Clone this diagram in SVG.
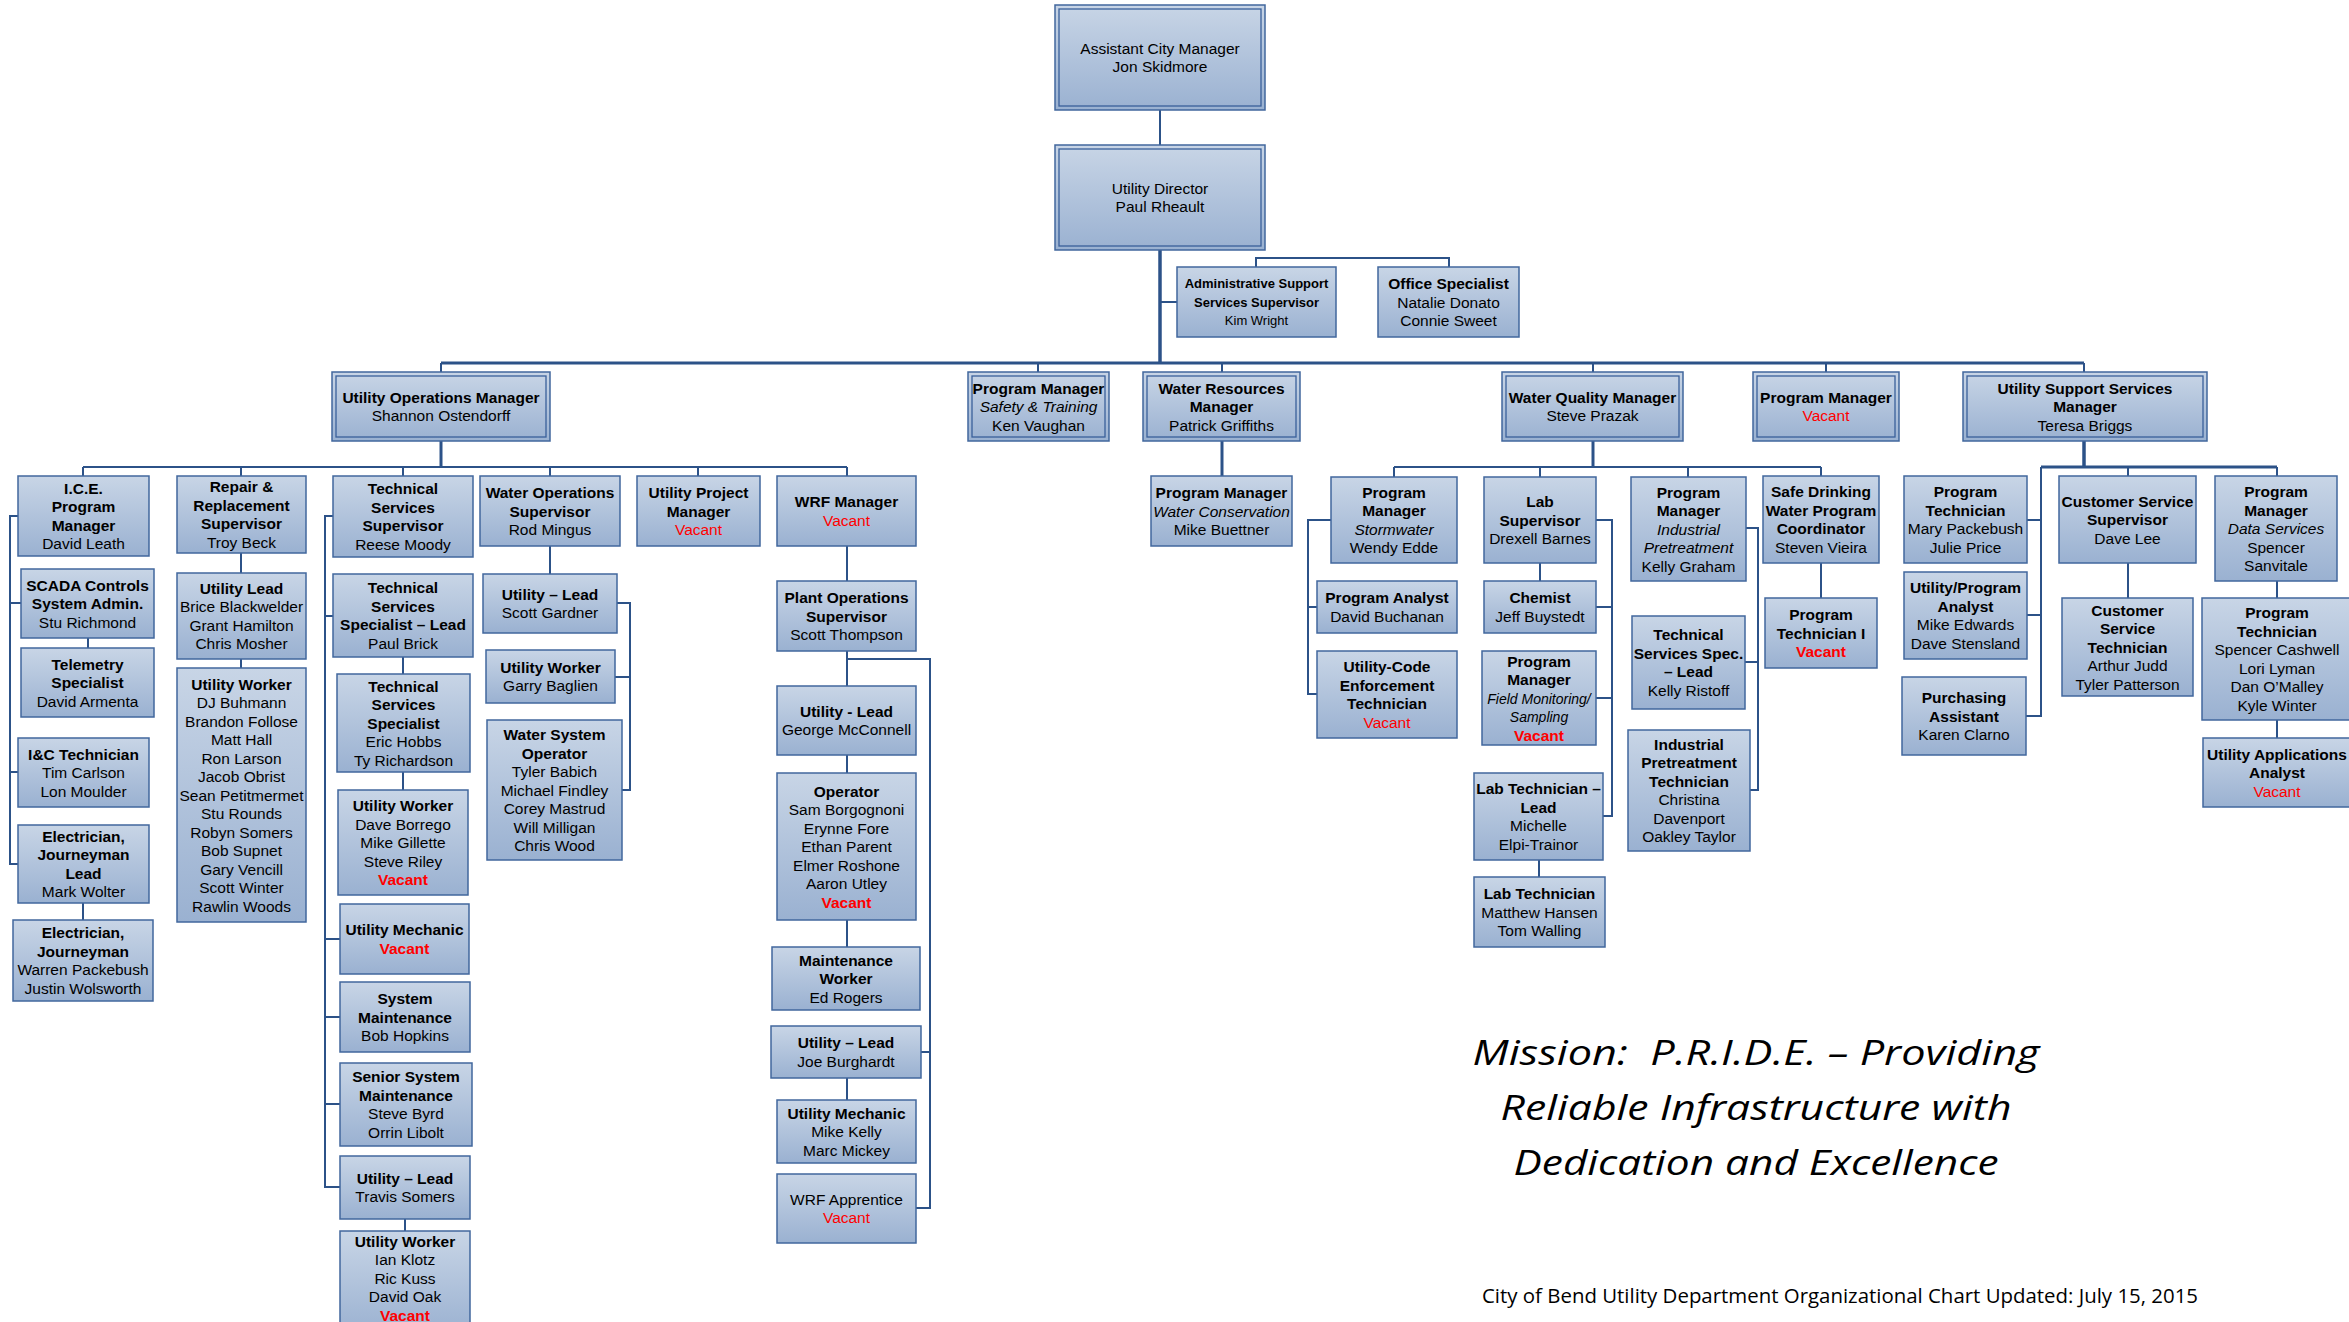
<svg xmlns="http://www.w3.org/2000/svg" width="2349" height="1322" viewBox="0 0 2349 1322">
<defs>
<linearGradient id="g" x1="0" y1="0" x2="0" y2="1">
<stop offset="0" stop-color="#c8d5e6"/>
<stop offset="1" stop-color="#9ab1d1"/>
</linearGradient>
<style>
.box{fill:url(#g);stroke:#41679d;stroke-width:1.5}
.in{fill:none;stroke:#3a609a;stroke-width:1.3}
.c{fill:none;stroke:#2c5288;stroke-width:2}
.ck{fill:none;stroke:#2c5288;stroke-width:3.5}
text{font-family:"Liberation Sans",Arial,sans-serif;font-size:15.5px;text-anchor:middle;fill:#000}
.b{font-weight:bold}
.i{font-style:italic}
.v{fill:#ff0000}
.vb{fill:#ff0000;font-weight:bold}
.s{font-size:13px}
.fi{font-style:italic;font-size:14px}
.m{font-family:"Open Sans","Liberation Sans",sans-serif;font-style:italic;font-size:35px}
.f{font-family:"Open Sans","Liberation Sans",sans-serif;font-size:20px;text-anchor:start}
</style>
</defs>
<rect width="2349" height="1322" fill="#ffffff"/>

<g id="connectors">
<path class="c" d="M1160 110V145"/>
<path class="ck" d="M1160 250V363"/>
<path class="c" d="M1160 302H1177"/>
<path class="c" d="M1256 267V258H1449V267"/>
<path class="c" d="M441 363H2084" style="stroke-width:3"/>
<path class="c" d="M441 363V372M1038 363V372M1222 363V372M1593 363V372M1826 363V372M2084 363V372"/>
<path class="ck" d="M441 441V467" style="stroke-width:3"/>
<path class="c" d="M83 467H847"/>
<path class="c" d="M83 467V476M241 467V476M403 467V476M550 467V476M698 467V476M847 467V476"/>
<path class="c" d="M18 516H10V864H18M10 603H21M10 772H18"/>
<path class="c" d="M88 638V648M83 903V920"/>
<path class="c" d="M241 553V573M241 659V668"/>
<path class="c" d="M333 516H325V1187H340M325 616H333M325 939H340M325 1017H340M325 1104H340"/>
<path class="c" d="M403 657V674M403 772V790M405 1219V1231"/>
<path class="c" d="M550 546V574M617 603H630V790H622M615 677H630"/>
<path class="c" d="M847 546V581M847 651V686M847 755V773M847 920V947M847 1078V1100"/>
<path class="c" d="M847 659H930V1208H916M921 1052H930"/>
<path class="ck" d="M1222 441V476" style="stroke-width:3"/>
<path class="ck" d="M1593 441V467" style="stroke-width:3"/>
<path class="c" d="M1394 467H1821"/>
<path class="c" d="M1394 467V477M1540 467V477M1688 467V477M1821 467V476"/>
<path class="c" d="M1331 520H1308V694H1317M1308 607H1317"/>
<path class="c" d="M1540 563V581M1596 520H1612V816H1603M1596 607H1612M1596 698H1612M1539 860V877"/>
<path class="c" d="M1746 528H1758V790H1750M1745 662H1758"/>
<path class="c" d="M1821 563V598"/>
<path class="ck" d="M2084 441V467"/>
<path class="c" d="M2041 467H2277" style="stroke-width:3"/>
<path class="c" d="M2128 467V476M2277 467V476"/>
<path class="c" d="M2041 467V716H2026M2027 520H2041M2027 615H2041"/>
<path class="c" d="M2128 563V598M2277 581V598M2277 720V738"/>
</g>

<g id="acm"><rect class="box" x="1055" y="5" width="210" height="105"/><rect class="in" x="1059" y="9" width="202" height="97"/>
<text><tspan x="1160" y="53.75">Assistant City Manager</tspan><tspan x="1160" y="72.25">Jon Skidmore</tspan></text></g>
<g id="ud"><rect class="box" x="1055" y="145" width="210" height="105"/><rect class="in" x="1059" y="149" width="202" height="97"/>
<text><tspan x="1160" y="193.75">Utility Director</tspan><tspan x="1160" y="212.25">Paul Rheault</tspan></text></g>
<g id="admin"><rect class="box" x="1177" y="267" width="159" height="70"/>
<text class="s"><tspan class="b" x="1256.5" y="288">Administrative Support</tspan><tspan class="b" x="1256.5" y="306.5">Services Supervisor</tspan><tspan x="1256.5" y="325">Kim Wright</tspan></text></g>
<g id="office"><rect class="box" x="1378" y="267" width="141" height="70"/>
<text><tspan class="b" x="1448.5" y="289">Office Specialist</tspan><tspan x="1448.5" y="307.5">Natalie Donato</tspan><tspan x="1448.5" y="326">Connie Sweet</tspan></text></g>

<g id="uom"><rect class="box" x="332" y="372" width="218" height="69"/><rect class="in" x="336" y="376" width="210" height="61"/>
<text><tspan class="b" x="441" y="402.75">Utility Operations Manager</tspan><tspan x="441" y="421.25">Shannon Ostendorff</tspan></text></g>
<g id="pmsafety"><rect class="box" x="968" y="372" width="141" height="69"/><rect class="in" x="972" y="376" width="133" height="61"/>
<text><tspan class="b" x="1038.5" y="393.5">Program Manager</tspan><tspan class="i" x="1038.5" y="412">Safety &amp; Training</tspan><tspan x="1038.5" y="430.5">Ken Vaughan</tspan></text></g>
<g id="wrm"><rect class="box" x="1143" y="372" width="157" height="69"/><rect class="in" x="1147" y="376" width="149" height="61"/>
<text><tspan class="b" x="1221.5" y="393.5">Water Resources</tspan><tspan class="b" x="1221.5" y="412">Manager</tspan><tspan x="1221.5" y="430.5">Patrick Griffiths</tspan></text></g>
<g id="wqm"><rect class="box" x="1502" y="372" width="181" height="69"/><rect class="in" x="1506" y="376" width="173" height="61"/>
<text><tspan class="b" x="1592.5" y="402.75">Water Quality Manager</tspan><tspan x="1592.5" y="421.25">Steve Prazak</tspan></text></g>
<g id="pmvacant"><rect class="box" x="1753" y="372" width="146" height="69"/><rect class="in" x="1757" y="376" width="138" height="61"/>
<text><tspan class="b" x="1826" y="402.75">Program Manager</tspan><tspan class="v" x="1826" y="421.25">Vacant</tspan></text></g>
<g id="ussm"><rect class="box" x="1963" y="372" width="244" height="69"/><rect class="in" x="1967" y="376" width="236" height="61"/>
<text><tspan class="b" x="2085" y="393.5">Utility Support Services</tspan><tspan class="b" x="2085" y="412">Manager</tspan><tspan x="2085" y="430.5">Teresa Briggs</tspan></text></g>

<g id="ice"><rect class="box" x="18" y="476" width="131" height="80"/>
<text><tspan class="b" x="83.5" y="493.75">I.C.E.</tspan><tspan class="b" x="83.5" y="512.25">Program</tspan><tspan class="b" x="83.5" y="530.75">Manager</tspan><tspan x="83.5" y="549.25">David Leath</tspan></text></g>
<g id="scada"><rect class="box" x="21" y="569" width="133" height="69"/>
<text><tspan class="b" x="87.5" y="590.5">SCADA Controls</tspan><tspan class="b" x="87.5" y="609">System Admin.</tspan><tspan x="87.5" y="627.5">Stu Richmond</tspan></text></g>
<g id="telemetry"><rect class="box" x="21" y="648" width="133" height="69"/>
<text><tspan class="b" x="87.5" y="669.5">Telemetry</tspan><tspan class="b" x="87.5" y="688">Specialist</tspan><tspan x="87.5" y="706.5">David Armenta</tspan></text></g>
<g id="ic"><rect class="box" x="18" y="738" width="131" height="69"/>
<text><tspan class="b" x="83.5" y="759.5">I&amp;C Technician</tspan><tspan x="83.5" y="778">Tim Carlson</tspan><tspan x="83.5" y="796.5">Lon Moulder</tspan></text></g>
<g id="eleclead"><rect class="box" x="18" y="825" width="131" height="78"/>
<text><tspan class="b" x="83.5" y="841.75">Electrician,</tspan><tspan class="b" x="83.5" y="860.25">Journeyman</tspan><tspan class="b" x="83.5" y="878.75">Lead</tspan><tspan x="83.5" y="897.25">Mark Wolter</tspan></text></g>
<g id="elecj"><rect class="box" x="13" y="920" width="140" height="81"/>
<text><tspan class="b" x="83" y="938.25">Electrician,</tspan><tspan class="b" x="83" y="956.75">Journeyman</tspan><tspan x="83" y="975.25">Warren Packebush</tspan><tspan x="83" y="993.75">Justin Wolsworth</tspan></text></g>

<g id="rr"><rect class="box" x="177" y="476" width="129" height="77"/>
<text><tspan class="b" x="241.5" y="492.25">Repair &amp;</tspan><tspan class="b" x="241.5" y="510.75">Replacement</tspan><tspan class="b" x="241.5" y="529.25">Supervisor</tspan><tspan x="241.5" y="547.75">Troy Beck</tspan></text></g>
<g id="rrlead"><rect class="box" x="177" y="573" width="129" height="86"/>
<text><tspan class="b" x="241.5" y="593.75">Utility Lead</tspan><tspan x="241.5" y="612.25">Brice Blackwelder</tspan><tspan x="241.5" y="630.75">Grant Hamilton</tspan><tspan x="241.5" y="649.25">Chris Mosher</tspan></text></g>
<g id="rrworker"><rect class="box" x="177" y="668" width="129" height="254"/>
<text><tspan class="b" x="241.5" y="689.5">Utility Worker</tspan><tspan x="241.5" y="708">DJ Buhmann</tspan><tspan x="241.5" y="726.5">Brandon Follose</tspan><tspan x="241.5" y="745">Matt Hall</tspan><tspan x="241.5" y="763.5">Ron Larson</tspan><tspan x="241.5" y="782">Jacob Obrist</tspan><tspan x="241.5" y="800.5">Sean Petitmermet</tspan><tspan x="241.5" y="819">Stu Rounds</tspan><tspan x="241.5" y="837.5">Robyn Somers</tspan><tspan x="241.5" y="856">Bob Supnet</tspan><tspan x="241.5" y="874.5">Gary Vencill</tspan><tspan x="241.5" y="893">Scott Winter</tspan><tspan x="241.5" y="911.5">Rawlin Woods</tspan></text></g>

<g id="tss"><rect class="box" x="333" y="476" width="140" height="81"/>
<text><tspan class="b" x="403" y="494.25">Technical</tspan><tspan class="b" x="403" y="512.75">Services</tspan><tspan class="b" x="403" y="531.25">Supervisor</tspan><tspan x="403" y="549.75">Reese Moody</tspan></text></g>
<g id="tsslead"><rect class="box" x="333" y="574" width="140" height="83"/>
<text><tspan class="b" x="403" y="593.25">Technical</tspan><tspan class="b" x="403" y="611.75">Services</tspan><tspan class="b" x="403" y="630.25">Specialist – Lead</tspan><tspan x="403" y="648.75">Paul Brick</tspan></text></g>
<g id="tsspec"><rect class="box" x="337" y="674" width="133" height="98"/>
<text><tspan class="b" x="403.5" y="691.5">Technical</tspan><tspan class="b" x="403.5" y="710">Services</tspan><tspan class="b" x="403.5" y="728.5">Specialist</tspan><tspan x="403.5" y="747">Eric Hobbs</tspan><tspan x="403.5" y="765.5">Ty Richardson</tspan></text></g>
<g id="tsworker"><rect class="box" x="338" y="790" width="130" height="105"/>
<text><tspan class="b" x="403" y="811">Utility Worker</tspan><tspan x="403" y="829.5">Dave Borrego</tspan><tspan x="403" y="848">Mike Gillette</tspan><tspan x="403" y="866.5">Steve Riley</tspan><tspan class="vb" x="403" y="885">Vacant</tspan></text></g>
<g id="tsmech"><rect class="box" x="340" y="904" width="129" height="70"/>
<text><tspan class="b" x="404.5" y="935.25">Utility Mechanic</tspan><tspan class="vb" x="404.5" y="953.75">Vacant</tspan></text></g>
<g id="sysmaint"><rect class="box" x="340" y="982" width="130" height="70"/>
<text><tspan class="b" x="405" y="1004">System</tspan><tspan class="b" x="405" y="1022.5">Maintenance</tspan><tspan x="405" y="1041">Bob Hopkins</tspan></text></g>
<g id="srsys"><rect class="box" x="340" y="1063" width="132" height="83"/>
<text><tspan class="b" x="406" y="1082.25">Senior System</tspan><tspan class="b" x="406" y="1100.75">Maintenance</tspan><tspan x="406" y="1119.25">Steve Byrd</tspan><tspan x="406" y="1137.75">Orrin Libolt</tspan></text></g>
<g id="utlead"><rect class="box" x="340" y="1156" width="130" height="63"/>
<text><tspan class="b" x="405" y="1183.75">Utility – Lead</tspan><tspan x="405" y="1202.25">Travis Somers</tspan></text></g>
<g id="utworker"><rect class="box" x="340" y="1231" width="130" height="104"/>
<text><tspan class="b" x="405" y="1246.5">Utility Worker</tspan><tspan x="405" y="1265">Ian Klotz</tspan><tspan x="405" y="1283.5">Ric Kuss</tspan><tspan x="405" y="1302">David Oak</tspan><tspan class="vb" x="405" y="1320.5">Vacant</tspan></text></g>

<g id="wos"><rect class="box" x="480" y="476" width="140" height="70"/>
<text><tspan class="b" x="550" y="498">Water Operations</tspan><tspan class="b" x="550" y="516.5">Supervisor</tspan><tspan x="550" y="535">Rod Mingus</tspan></text></g>
<g id="wolead"><rect class="box" x="483" y="574" width="134" height="59"/>
<text><tspan class="b" x="550" y="599.75">Utility – Lead</tspan><tspan x="550" y="618.25">Scott Gardner</tspan></text></g>
<g id="woworker"><rect class="box" x="486" y="650" width="129" height="53"/>
<text><tspan class="b" x="550.5" y="672.75">Utility Worker</tspan><tspan x="550.5" y="691.25">Garry Baglien</tspan></text></g>
<g id="wso"><rect class="box" x="487" y="720" width="135" height="140"/>
<text><tspan class="b" x="554.5" y="740">Water System</tspan><tspan class="b" x="554.5" y="758.5">Operator</tspan><tspan x="554.5" y="777">Tyler Babich</tspan><tspan x="554.5" y="795.5">Michael Findley</tspan><tspan x="554.5" y="814">Corey Mastrud</tspan><tspan x="554.5" y="832.5">Will Milligan</tspan><tspan x="554.5" y="851">Chris Wood</tspan></text></g>
<g id="upm"><rect class="box" x="637" y="476" width="123" height="70"/>
<text><tspan class="b" x="698.5" y="498">Utility Project</tspan><tspan class="b" x="698.5" y="516.5">Manager</tspan><tspan class="v" x="698.5" y="535">Vacant</tspan></text></g>

<g id="wrf"><rect class="box" x="777" y="476" width="139" height="70"/>
<text><tspan class="b" x="846.5" y="507.25">WRF Manager</tspan><tspan class="v" x="846.5" y="525.75">Vacant</tspan></text></g>
<g id="pos"><rect class="box" x="777" y="581" width="139" height="70"/>
<text><tspan class="b" x="846.5" y="603">Plant Operations</tspan><tspan class="b" x="846.5" y="621.5">Supervisor</tspan><tspan x="846.5" y="640">Scott Thompson</tspan></text></g>
<g id="wrflead"><rect class="box" x="777" y="686" width="139" height="69"/>
<text><tspan class="b" x="846.5" y="716.75">Utility - Lead</tspan><tspan x="846.5" y="735.25">George McConnell</tspan></text></g>
<g id="operator"><rect class="box" x="777" y="773" width="139" height="147"/>
<text><tspan class="b" x="846.5" y="796.5">Operator</tspan><tspan x="846.5" y="815">Sam Borgognoni</tspan><tspan x="846.5" y="833.5">Erynne Fore</tspan><tspan x="846.5" y="852">Ethan Parent</tspan><tspan x="846.5" y="870.5">Elmer Roshone</tspan><tspan x="846.5" y="889">Aaron Utley</tspan><tspan class="vb" x="846.5" y="907.5">Vacant</tspan></text></g>
<g id="maintw"><rect class="box" x="772" y="947" width="148" height="63"/>
<text><tspan class="b" x="846" y="965.5">Maintenance</tspan><tspan class="b" x="846" y="984">Worker</tspan><tspan x="846" y="1002.5">Ed Rogers</tspan></text></g>
<g id="wrflead2"><rect class="box" x="771" y="1026" width="150" height="52"/>
<text><tspan class="b" x="846" y="1048.25">Utility – Lead</tspan><tspan x="846" y="1066.75">Joe Burghardt</tspan></text></g>
<g id="wrfmech"><rect class="box" x="777" y="1100" width="139" height="63"/>
<text><tspan class="b" x="846.5" y="1118.5">Utility Mechanic</tspan><tspan x="846.5" y="1137">Mike Kelly</tspan><tspan x="846.5" y="1155.5">Marc Mickey</tspan></text></g>
<g id="wrfapp"><rect class="box" x="777" y="1174" width="139" height="69"/>
<text><tspan x="846.5" y="1204.75">WRF Apprentice</tspan><tspan class="v" x="846.5" y="1223.25">Vacant</tspan></text></g>

<g id="pmwc"><rect class="box" x="1151" y="476" width="141" height="70"/>
<text><tspan class="b" x="1221.5" y="498">Program Manager</tspan><tspan class="i" x="1221.5" y="516.5">Water Conservation</tspan><tspan x="1221.5" y="535">Mike Buettner</tspan></text></g>

<g id="pmsw"><rect class="box" x="1331" y="477" width="126" height="86"/>
<text><tspan class="b" x="1394" y="497.75">Program</tspan><tspan class="b" x="1394" y="516.25">Manager</tspan><tspan class="i" x="1394" y="534.75">Stormwater</tspan><tspan x="1394" y="553.25">Wendy Edde</tspan></text></g>
<g id="pa"><rect class="box" x="1317" y="581" width="140" height="52"/>
<text><tspan class="b" x="1387" y="603.25">Program Analyst</tspan><tspan x="1387" y="621.75">David Buchanan</tspan></text></g>
<g id="uce"><rect class="box" x="1317" y="651" width="140" height="87"/>
<text><tspan class="b" x="1387" y="672.25">Utility-Code</tspan><tspan class="b" x="1387" y="690.75">Enforcement</tspan><tspan class="b" x="1387" y="709.25">Technician</tspan><tspan class="v" x="1387" y="727.75">Vacant</tspan></text></g>
<g id="labsup"><rect class="box" x="1484" y="477" width="112" height="86"/>
<text><tspan class="b" x="1540" y="507">Lab</tspan><tspan class="b" x="1540" y="525.5">Supervisor</tspan><tspan x="1540" y="544">Drexell Barnes</tspan></text></g>
<g id="chemist"><rect class="box" x="1484" y="581" width="112" height="52"/>
<text><tspan class="b" x="1540" y="603.25">Chemist</tspan><tspan x="1540" y="621.75">Jeff Buystedt</tspan></text></g>
<g id="pmfm"><rect class="box" x="1482" y="651" width="114" height="94"/>
<text><tspan class="b" x="1539" y="666.5">Program</tspan><tspan class="b" x="1539" y="685">Manager</tspan><tspan class="fi" x="1539" y="703.5">Field Monitoring/</tspan><tspan class="fi" x="1539" y="722">Sampling</tspan><tspan class="vb" x="1539" y="740.5">Vacant</tspan></text></g>
<g id="labtechlead"><rect class="box" x="1474" y="773" width="129" height="87"/>
<text><tspan class="b" x="1538.5" y="794.25">Lab Technician –</tspan><tspan class="b" x="1538.5" y="812.75">Lead</tspan><tspan x="1538.5" y="831.25">Michelle</tspan><tspan x="1538.5" y="849.75">Elpi-Trainor</tspan></text></g>
<g id="labtech"><rect class="box" x="1474" y="877" width="131" height="70"/>
<text><tspan class="b" x="1539.5" y="899">Lab Technician</tspan><tspan x="1539.5" y="917.5">Matthew Hansen</tspan><tspan x="1539.5" y="936">Tom Walling</tspan></text></g>
<g id="pmip"><rect class="box" x="1631" y="477" width="115" height="104"/>
<text><tspan class="b" x="1688.5" y="497.5">Program</tspan><tspan class="b" x="1688.5" y="516">Manager</tspan><tspan class="i" x="1688.5" y="534.5">Industrial</tspan><tspan class="i" x="1688.5" y="553">Pretreatment</tspan><tspan x="1688.5" y="571.5">Kelly Graham</tspan></text></g>
<g id="tsslead2"><rect class="box" x="1632" y="616" width="113" height="93"/>
<text><tspan class="b" x="1688.5" y="640.25">Technical</tspan><tspan class="b" x="1688.5" y="658.75">Services Spec.</tspan><tspan class="b" x="1688.5" y="677.25">– Lead</tspan><tspan x="1688.5" y="695.75">Kelly Ristoff</tspan></text></g>
<g id="ipt"><rect class="box" x="1628" y="730" width="122" height="121"/>
<text><tspan class="b" x="1689" y="749.75">Industrial</tspan><tspan class="b" x="1689" y="768.25">Pretreatment</tspan><tspan class="b" x="1689" y="786.75">Technician</tspan><tspan x="1689" y="805.25">Christina</tspan><tspan x="1689" y="823.75">Davenport</tspan><tspan x="1689" y="842.25">Oakley Taylor</tspan></text></g>
<g id="sdw"><rect class="box" x="1763" y="476" width="116" height="87"/>
<text><tspan class="b" x="1821" y="497.25">Safe Drinking</tspan><tspan class="b" x="1821" y="515.75">Water Program</tspan><tspan class="b" x="1821" y="534.25">Coordinator</tspan><tspan x="1821" y="552.75">Steven Vieira</tspan></text></g>
<g id="pt1"><rect class="box" x="1765" y="598" width="112" height="70"/>
<text><tspan class="b" x="1821" y="620">Program</tspan><tspan class="b" x="1821" y="638.5">Technician I</tspan><tspan class="vb" x="1821" y="657">Vacant</tspan></text></g>

<g id="ptmary"><rect class="box" x="1904" y="476" width="123" height="87"/>
<text><tspan class="b" x="1965.5" y="497.25">Program</tspan><tspan class="b" x="1965.5" y="515.75">Technician</tspan><tspan x="1965.5" y="534.25">Mary Packebush</tspan><tspan x="1965.5" y="552.75">Julie Price</tspan></text></g>
<g id="upa"><rect class="box" x="1904" y="572" width="123" height="87"/>
<text><tspan class="b" x="1965.5" y="593.25">Utility/Program</tspan><tspan class="b" x="1965.5" y="611.75">Analyst</tspan><tspan x="1965.5" y="630.25">Mike Edwards</tspan><tspan x="1965.5" y="648.75">Dave Stensland</tspan></text></g>
<g id="purch"><rect class="box" x="1902" y="677" width="124" height="78"/>
<text><tspan class="b" x="1964" y="703">Purchasing</tspan><tspan class="b" x="1964" y="721.5">Assistant</tspan><tspan x="1964" y="740">Karen Clarno</tspan></text></g>
<g id="css"><rect class="box" x="2059" y="476" width="137" height="87"/>
<text><tspan class="b" x="2127.5" y="506.5">Customer Service</tspan><tspan class="b" x="2127.5" y="525">Supervisor</tspan><tspan x="2127.5" y="543.5">Dave Lee</tspan></text></g>
<g id="cst"><rect class="box" x="2062" y="598" width="131" height="98"/>
<text><tspan class="b" x="2127.5" y="615.5">Customer</tspan><tspan class="b" x="2127.5" y="634">Service</tspan><tspan class="b" x="2127.5" y="652.5">Technician</tspan><tspan x="2127.5" y="671">Arthur Judd</tspan><tspan x="2127.5" y="689.5">Tyler Patterson</tspan></text></g>
<g id="pmds"><rect class="box" x="2215" y="476" width="122" height="105"/>
<text><tspan class="b" x="2276" y="497">Program</tspan><tspan class="b" x="2276" y="515.5">Manager</tspan><tspan class="i" x="2276" y="534">Data Services</tspan><tspan x="2276" y="552.5">Spencer</tspan><tspan x="2276" y="571">Sanvitale</tspan></text></g>
<g id="ptsc"><rect class="box" x="2202" y="598" width="152" height="122"/>
<text><tspan class="b" x="2277" y="618.25">Program</tspan><tspan class="b" x="2277" y="636.75">Technician</tspan><tspan x="2277" y="655.25">Spencer Cashwell</tspan><tspan x="2277" y="673.75">Lori Lyman</tspan><tspan x="2277" y="692.25">Dan O’Malley</tspan><tspan x="2277" y="710.75">Kyle Winter</tspan></text></g>
<g id="uaa"><rect class="box" x="2203" y="738" width="151" height="69"/>
<text><tspan class="b" x="2277" y="759.5">Utility Applications</tspan><tspan class="b" x="2277" y="778">Analyst</tspan><tspan class="v" x="2277" y="796.5">Vacant</tspan></text></g>

<g id="mission">
<text class="m" x="1756" y="1065" textLength="567" lengthAdjust="spacingAndGlyphs">Mission:&#160; P.R.I.D.E. – Providing</text>
<text class="m" x="1756" y="1120" textLength="511" lengthAdjust="spacingAndGlyphs">Reliable Infrastructure with</text>
<text class="m" x="1756" y="1175" textLength="485" lengthAdjust="spacingAndGlyphs">Dedication and Excellence</text>
<text class="f" x="1482" y="1303" textLength="716" lengthAdjust="spacingAndGlyphs">City of Bend Utility Department Organizational Chart Updated: July 15, 2015</text>
</g>
</svg>
